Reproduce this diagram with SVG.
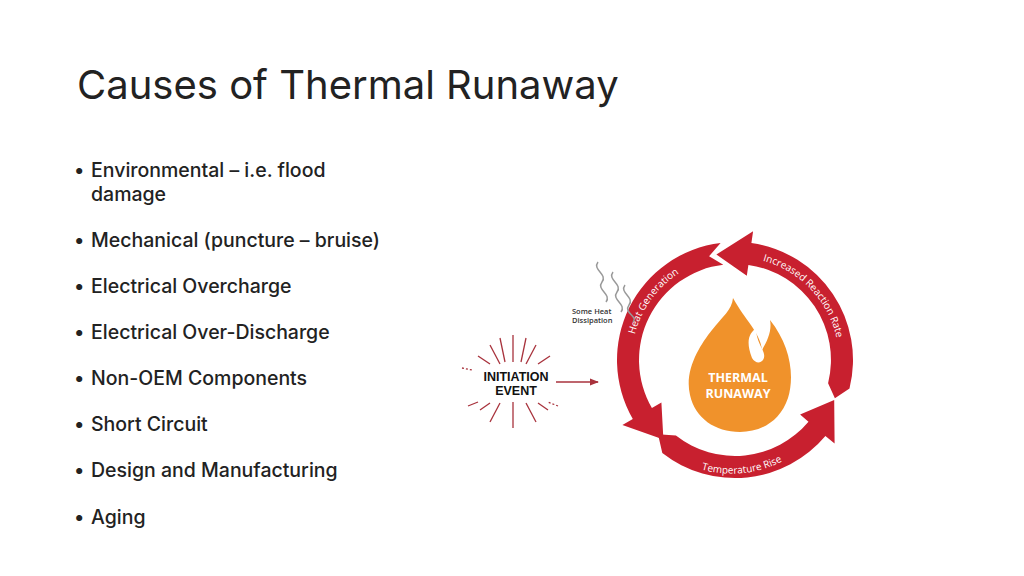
<svg xmlns="http://www.w3.org/2000/svg" width="1024" height="576" viewBox="0 0 1024 576">
<style>
.t{font-family:Inter,"Liberation Sans",sans-serif;fill:#222}
.b{font-size:19.5px;font-weight:500}
.arc{fill:#c8202f}
.lab{font-family:"Open Sans","Liberation Sans",sans-serif;font-size:10px;fill:#fff}
.ray{stroke:#a8323c;stroke-width:1.3}
</style>
<defs>
<path id="pHG" d="M 632 370 A 103 103 0 0 1 712 259.6"/>
<path id="pIR" d="M 755 258.9 A 103 103 0 0 1 838 346"/>
<path id="pTR" d="M 682 462 A 111 111 0 0 0 800 450"/>
<marker id="ah" viewBox="0 0 10 10" refX="9" refY="5" markerWidth="7" markerHeight="7" orient="auto"><path d="M0 1 L10 5 L0 9 Z" fill="#a8323c"/></marker>
</defs>
<rect width="1024" height="576" fill="#fff"/>
<text class="t" x="77" y="99" font-size="40">Causes of Thermal Runaway</text>
<g id="bullets" class="t b">
<text x="74" y="177">•</text><text x="91" y="177">Environmental – i.e. flood</text><text x="91" y="201">damage</text>
<text x="74" y="247">•</text><text x="91" y="247">Mechanical (puncture – bruise)</text>
<text x="74" y="293">•</text><text x="91" y="293">Electrical Overcharge</text>
<text x="74" y="339">•</text><text x="91" y="339">Electrical Over-Discharge</text>
<text x="74" y="385">•</text><text x="91" y="385">Non-OEM Components</text>
<text x="74" y="431">•</text><text x="91" y="431">Short Circuit</text>
<text x="74" y="477">•</text><text x="91" y="477">Design and Manufacturing</text>
<text x="74" y="524">•</text><text x="91" y="524">Aging</text>
</g>
<g id="cycle">
<path class="arc" d="M 720.6 242.9 A 118 118 0 0 0 632.8 419 L 622.4 425 L 663.4 439.5 L 661.4 402.5 L 651.9 408 A 96 96 0 0 1 723.3 264.7 L 709.1 256.2 Z"/>
<path class="arc" d="M 662.3 453 A 118 118 0 0 0 825.4 435.9 L 834.6 443.6 L 834.2 400.1 L 800.1 414.6 L 808.5 421.7 A 96 96 0 0 1 675.9 435.6 L 658 434.3 Z"/>
<path class="arc" d="M 849.5 388.5 A 118 118 0 0 0 751.4 243.1 L 753.1 231.3 L 716.4 254.6 L 746.8 275.8 L 748.4 264.9 A 96 96 0 0 1 828.1 383.2 L 834.9 398.3 Z"/>
<text class="lab"><textPath href="#pHG" startOffset="50%" text-anchor="middle">Heat Generation</textPath></text>
<text class="lab"><textPath href="#pIR" startOffset="50%" text-anchor="middle">Increased Reaction Rate</textPath></text>
<text class="lab"><textPath href="#pTR" startOffset="50%" text-anchor="middle">Temperature Rise</textPath></text>
</g>
<g id="flame">
<path fill="#f0922b" d="M 733 298 C 745 320 760 332 762 350 C 768 340 772 330 770 320 C 790 345 795 375 788 398 C 780 422 760 432 740 432 C 715 432 695 418 690 395 C 684 370 700 345 712 330 C 722 317 732 310 733 298 Z"/>
<path fill="#fff" d="M 752 358 C 745 340 750 333 756 328 C 756 345 768 352 763 360 C 760 364 755 363 752 358 Z"/>
<text x="738" y="382" text-anchor="middle" font-family="'Open Sans','Liberation Sans',sans-serif" font-weight="bold" font-size="12.5" fill="#fff">THERMAL</text>
<text x="738" y="398" text-anchor="middle" font-family="'Open Sans','Liberation Sans',sans-serif" font-weight="bold" font-size="12.5" fill="#fff">RUNAWAY</text>
</g>
<g id="dissipation" fill="none" stroke="#999" stroke-width="1.5">
<path d="M 598 262 C 592 270 608 274 602 282 C 596 290 612 294 606 302"/>
<path d="M 613 272 C 607 280 623 284 617 292 C 611 300 627 304 621 312"/>
<path d="M 625 285 C 619 293 635 297 629 305 C 623 313 639 317 633 322"/>
<text x="572" y="314" font-family="'Open Sans','Liberation Sans',sans-serif" font-weight="600" font-size="7.5" fill="#333" stroke="none">Some Heat</text>
<text x="572" y="323" font-family="'Open Sans','Liberation Sans',sans-serif" font-weight="600" font-size="7.5" fill="#333" stroke="none">Dissipation</text>
</g>
<g id="initiation">
<g class="ray">
<line x1="513" y1="335" x2="513" y2="362"/><line x1="513" y1="402" x2="513" y2="428"/>
<line x1="490" y1="345" x2="500" y2="364"/><line x1="536" y1="345" x2="526" y2="364"/>
<line x1="478" y1="356" x2="490" y2="364"/><line x1="550" y1="356" x2="538" y2="364"/>
<line x1="480" y1="410" x2="490" y2="403"/>
<line x1="548" y1="410" x2="538" y2="403"/><line x1="490" y1="422" x2="500" y2="403"/>
<line x1="536" y1="422" x2="526" y2="403"/><line x1="500" y1="338" x2="505" y2="362"/>
<line x1="526" y1="338" x2="521" y2="362"/><line x1="468" y1="406" x2="478" y2="402"/>
<line x1="558" y1="406" x2="548" y2="402" stroke-dasharray="2 2"/><line x1="462" y1="368" x2="472" y2="370" stroke-dasharray="2 2"/>
</g>
<text x="516" y="381" text-anchor="middle" font-family="'Liberation Sans',sans-serif" font-weight="bold" font-size="12.5" fill="#111">INITIATION</text>
<text x="516" y="395" text-anchor="middle" font-family="'Liberation Sans',sans-serif" font-weight="bold" font-size="12.5" fill="#111">EVENT</text>
</g>
<g id="connectors"><line x1="556" y1="382" x2="598" y2="382" stroke="#a8323c" stroke-width="1.3" marker-end="url(#ah)"/></g>
</svg>
